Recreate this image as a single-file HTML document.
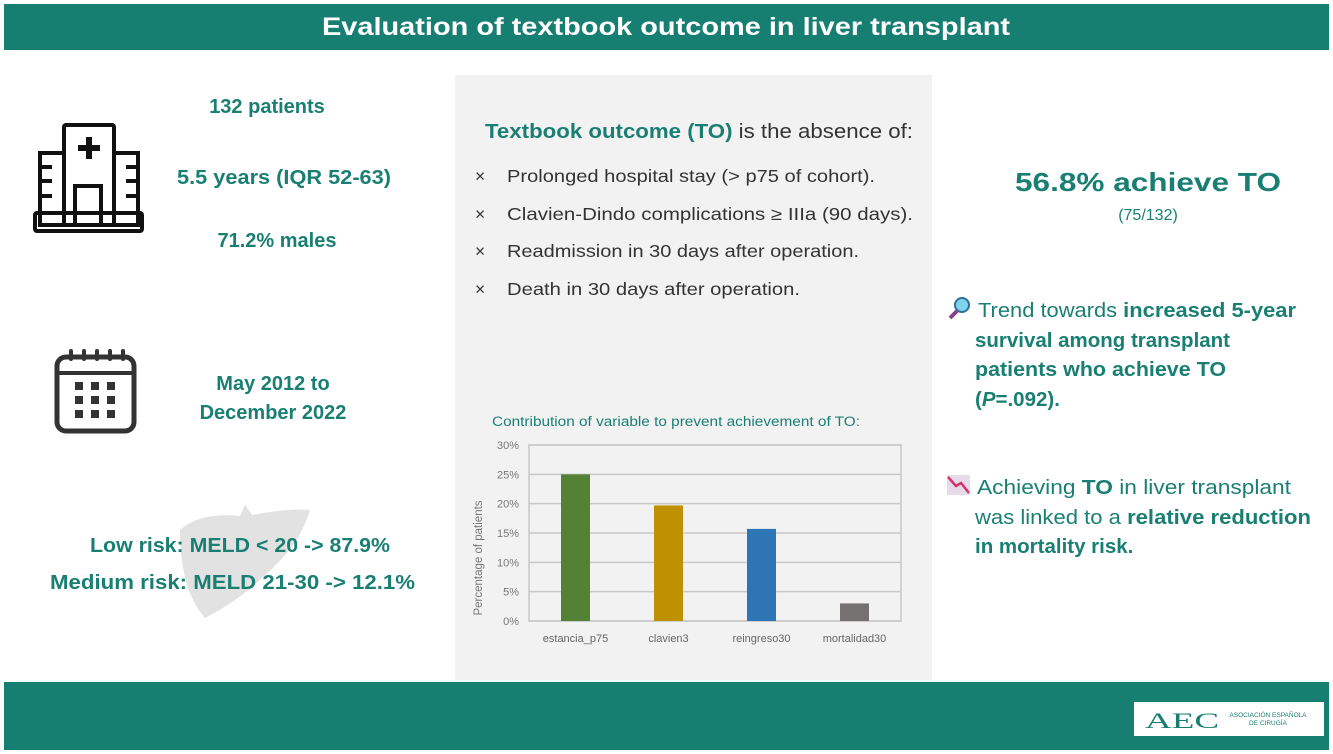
<!DOCTYPE html>
<html><head><meta charset="utf-8"><style>
html,body{margin:0;padding:0;background:#fff;}
svg{display:block;font-family:"Liberation Sans",sans-serif;}
</style></head><body>
<svg width="1333" height="754" viewBox="0 0 1333 754">
<rect x="0" y="0" width="1333" height="754" fill="#fff"/>
<rect x="4" y="4" width="1325" height="46" fill="#177f72"/>
<text x="666" y="35" text-anchor="middle" font-size="25" font-weight="bold" fill="#fff" textLength="688" lengthAdjust="spacingAndGlyphs">Evaluation of textbook outcome in liver transplant</text>
<rect x="4" y="682" width="1325" height="68" fill="#177f72"/>
<g>
<rect x="1134" y="702" width="190" height="34" fill="#fff"/>
<text x="1145" y="728" font-size="22" fill="#177f72" font-family="Liberation Serif,serif" textLength="74" lengthAdjust="spacingAndGlyphs">AEC</text>
<text x="1268" y="717" text-anchor="middle" font-size="6.5" fill="#177f72">ASOCIACIÓN ESPAÑOLA</text>
<text x="1268" y="725" text-anchor="middle" font-size="6.5" fill="#177f72">DE CIRUGÍA</text>
</g>

<!-- left column -->
<g fill="#1a7f73" font-weight="bold" font-size="20" text-anchor="middle">
<text x="267" y="113">132 patients</text>
<text x="284" y="184" textLength="214" lengthAdjust="spacingAndGlyphs">5.5 years (IQR 52-63)</text>
<text x="277" y="247">71.2% males</text>
<text x="273" y="390">May 2012 to</text>
<text x="273" y="419">December 2022</text>
</g>
<g fill="none" stroke="#111" stroke-width="4">
<rect x="64" y="125" width="50" height="100" rx="2"/>
<rect x="40" y="153" width="24" height="72"/>
<rect x="114" y="153" width="24" height="72"/>
<rect x="75" y="186" width="26" height="39"/>
<rect x="35" y="213" width="107" height="18" rx="2"/>
<path d="M40 167h12M40 181h12M40 196h12M126 167h12M126 181h12M126 196h12"/>
<path d="M89 137v22M78 148h22" stroke-width="6"/>
</g>
<g>
<rect x="57" y="357" width="77" height="74" rx="9" fill="none" stroke="#333" stroke-width="5"/>
<path d="M57 373h77" stroke="#333" stroke-width="4"/>
<g stroke="#333" stroke-width="4" stroke-linecap="round"><path d="M71 351v8M84 351v8M97 351v8M110 351v8M123 351v8"/></g>
<g fill="#333"><rect x="75" y="382" width="8" height="8"/><rect x="91" y="382" width="8" height="8"/><rect x="107" y="382" width="8" height="8"/>
<rect x="75" y="396" width="8" height="8"/><rect x="91" y="396" width="8" height="8"/><rect x="107" y="396" width="8" height="8"/>
<rect x="75" y="410" width="8" height="8"/><rect x="91" y="410" width="8" height="8"/><rect x="107" y="410" width="8" height="8"/></g>
</g>
<path d="M180 530 Q200 512 240 516 L245 505 L252 515 Q290 508 310 510 Q300 545 265 575 Q240 600 205 618 Q180 590 180 530Z" fill="#e2e2e2"/>
<g fill="#1a7f73" font-weight="bold" font-size="20">
<text x="90" y="552" textLength="300" lengthAdjust="spacingAndGlyphs">Low risk: MELD &lt; 20 -&gt; 87.9%</text>
<text x="50" y="589" textLength="365" lengthAdjust="spacingAndGlyphs">Medium risk: MELD 21-30  -&gt; 12.1%</text>
</g>

<!-- center panel -->
<rect x="455" y="75" width="477" height="605" fill="#f2f2f2"/>
<text x="485" y="138" font-size="20" textLength="428" lengthAdjust="spacingAndGlyphs"><tspan font-weight="bold" fill="#1a7f73">Textbook outcome (TO)</tspan><tspan fill="#333"> is the absence of:</tspan></text>
<g font-size="17.5" fill="#333">
<text x="475" y="182">×</text><text x="507" y="182" textLength="368" lengthAdjust="spacingAndGlyphs">Prolonged hospital stay (&gt; p75 of cohort).</text>
<text x="475" y="220">×</text><text x="507" y="220" textLength="406" lengthAdjust="spacingAndGlyphs">Clavien-Dindo complications ≥ IIIa (90 days).</text>
<text x="475" y="257">×</text><text x="507" y="257" textLength="352" lengthAdjust="spacingAndGlyphs">Readmission in 30 days after operation.</text>
<text x="475" y="295">×</text><text x="507" y="295" textLength="293" lengthAdjust="spacingAndGlyphs">Death in 30 days after operation.</text>
</g>
<text x="492" y="426" font-size="13.5" fill="#1a7f73" textLength="368" lengthAdjust="spacingAndGlyphs">Contribution of variable to prevent achievement of TO:</text>
<g id="chart"></g>

<!-- right column -->
<text x="1148" y="191" text-anchor="middle" font-size="26" font-weight="bold" fill="#1a7f73" textLength="266" lengthAdjust="spacingAndGlyphs">56.8% achieve TO</text>
<text x="1148" y="220" text-anchor="middle" font-size="16" fill="#1a7f73">(75/132)</text>
<g><circle cx="962" cy="305" r="7" fill="#7fd3ec" stroke="#2d6f95" stroke-width="2"/><path d="M957 311l-7 7" stroke="#8a3f8f" stroke-width="4"/></g>
<g font-size="20.5" fill="#1a7f73">
<text x="978" y="317" textLength="318" lengthAdjust="spacingAndGlyphs">Trend towards <tspan font-weight="bold">increased 5-year</tspan></text>
<text x="975" y="347" font-weight="bold" textLength="255" lengthAdjust="spacingAndGlyphs">survival among transplant</text>
<text x="975" y="376" font-weight="bold" textLength="251" lengthAdjust="spacingAndGlyphs">patients who achieve TO</text>
<text x="975" y="406" font-weight="bold">(<tspan font-style="italic">P</tspan>=.092).</text>
<text x="977" y="494" textLength="314" lengthAdjust="spacingAndGlyphs">Achieving <tspan font-weight="bold">TO</tspan> in liver transplant</text>
<text x="975" y="524" textLength="336" lengthAdjust="spacingAndGlyphs">was linked to a <tspan font-weight="bold">relative reduction</tspan></text>
<text x="975" y="553" font-weight="bold">in mortality risk.</text>
</g>
<g><rect x="947" y="475" width="23" height="20" fill="#e6dbe8"/><path d="M948 477l8 9 5-3 8 10" stroke="#d6336c" stroke-width="2.5" fill="none"/></g>
</svg>
<script>
const categories = ["estancia_p75","clavien3","reingreso30","mortalidad30"];
const values = [25, 19.7, 15.7, 3];
const colors = ["#548235","#bf9000","#2e75b6","#767171"];
const ticks = [0,5,10,15,20,25,30];
const tickLabels = ["0%","5%","10%","15%","20%","25%","30%"];
(function(){
  const NS="http://www.w3.org/2000/svg";
  const g=document.getElementById('chart');
  const x0=529,x1=901,y0=621,y1=445,yMax=30;
  const y=v=>y0-(v/yMax)*(y0-y1);
  const band=(x1-x0)/categories.length;
  const cx=i=>x0+band*(i+0.5);
  function mk(t,a){const e=document.createElementNS(NS,t);for(const k in a)e.setAttribute(k,a[k]);g.appendChild(e);return e;}
  ticks.forEach((t,i)=>{
    const l=mk('line',{x1:x0,x2:x1,y1:y(t),y2:y(t),stroke:'#c8c8c8','stroke-width':1.5});
    
    
    const tx=mk('text',{x:x0-10,y:y(t)+4,'text-anchor':'end','font-size':11,fill:'#777'});
    tx.textContent=tickLabels[i];
    
    
  });
  const fr=mk('rect',{x:x0,y:y1,width:x1-x0,height:y0-y1,fill:'none',stroke:'#c8c8c8','stroke-width':1.5});
  
  
  categories.forEach((c,i)=>{
    const b=mk('rect',{x:cx(i)-14.5,y:y(values[i]),width:29,height:y0-y(values[i]),fill:colors[i]});
    
    
    const t=mk('text',{x:cx(i),y:642,'text-anchor':'middle','font-size':11,fill:'#666'});
    t.textContent=c;
    
    
  });
  const yt=mk('text',{x:0,y:0,'text-anchor':'middle','font-size':11.5,fill:'#777',transform:'translate(482,'+((y0+y1)/2+25)+') rotate(-90)'});
  yt.textContent='Percentage of patients';
  
  
})();
</script>
</body></html>
